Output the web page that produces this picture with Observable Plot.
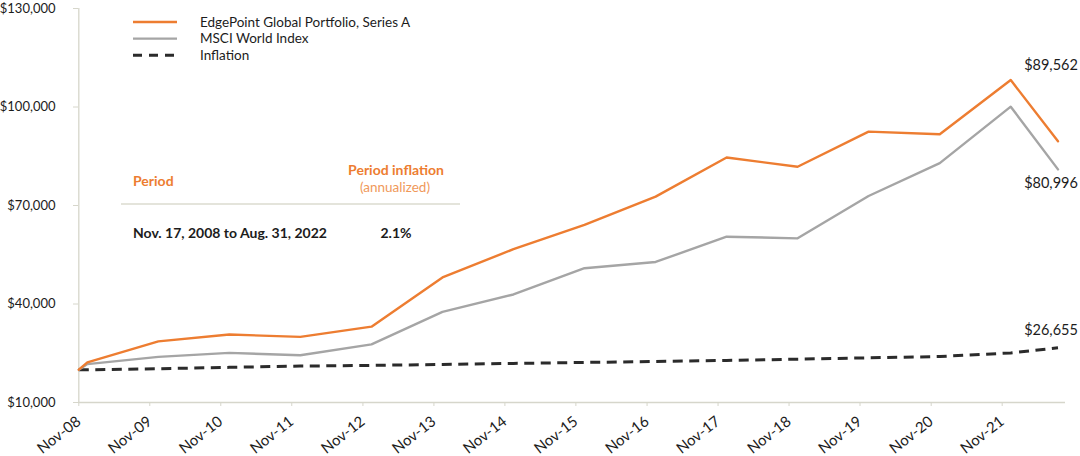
<!DOCTYPE html>
<html>
<head>
<meta charset="utf-8">
<script src="https://cdn.jsdelivr.net/npm/d3@7"></script>
<script src="https://cdn.jsdelivr.net/npm/@observablehq/plot@0.6"></script>
<style>
  html, body { margin: 0; padding: 0; background: #fff; }
  #chart { width: 1080px; height: 456px; }
  svg { font-family: Lato, "Open Sans", sans-serif; }
</style>
</head>
<body>
<div id="chart"></div>
<script>
// ---- data ----
const dates = ["2008-11-17","2008-12-31","2009-12-31","2010-12-31","2011-12-31","2012-12-31","2013-12-31",
  "2014-12-31","2015-12-31","2016-12-31","2017-12-31","2018-12-31","2019-12-31","2020-12-31","2021-12-31","2022-08-31"];
const portfolio = [20000, 22200, 28600, 30700, 30000, 33100, 48100, 56700, 64100, 72700, 84600, 81800, 92500, 91700, 108200, 89562];
const msci      = [20000, 21700, 23900, 25100, 24400, 27700, 37600, 42900, 50900, 52800, 60500, 60000, 72900, 82900, 100100, 80996];
const inflation = [20000, 19950, 20300, 20700, 21100, 21300, 21600, 21900, 22200, 22500, 22800, 23200, 23600, 24000, 25100, 26655];

const seriesNames = ["EdgePoint Global Portfolio, Series A", "MSCI World Index", "Inflation"];
const endLabels = ["$89,562", "$80,996", "$26,655"];

const xTickDates = ["2008-11-17","2009-11-17","2010-11-17","2011-11-17","2012-11-17","2013-11-17","2014-11-17",
  "2015-11-17","2016-11-17","2017-11-17","2018-11-17","2019-11-17","2020-11-17","2021-11-17"];
const xTickLabels = ["Nov-08","Nov-09","Nov-10","Nov-11","Nov-12","Nov-13","Nov-14",
  "Nov-15","Nov-16","Nov-17","Nov-18","Nov-19","Nov-20","Nov-21"];
const yTicks = [10000, 40000, 70000, 100000, 130000];

const tableHeader = ["Period", "Period inflation", "(annualized)"];
const tableRow = ["Nov. 17, 2008 to Aug. 31, 2022", "2.1%"];

// ---- styles ----
const ORANGE = "#ED7D31", GRAY = "#A5A5A5", DARK = "#2b2b2b", AXIS = "#d6d6cb", TEXT = "#1c1c1c";

const parse = d3.utcParse("%Y-%m-%d");
const rows = dates.map((d, i) => ({date: parse(d), portfolio: portfolio[i], msci: msci[i], inflation: inflation[i]}));
const last = rows[rows.length - 1];
const tickDates = xTickDates.map(parse);
const fmt = d3.format(",");

const chart = Plot.plot({
  width: 1080,
  height: 456,
  marginLeft: 78,
  marginRight: 15,
  marginTop: 8,
  marginBottom: 54,
  style: {fontFamily: "Lato, sans-serif", background: "#fff", overflow: "visible"},
  x: {type: "utc", domain: [parse(dates[0]), parse(dates[dates.length - 1])], range: [78.3, 1057.5]},
  y: {domain: [10000, 130000]},
  marks: [
    Plot.ruleY([10000], {stroke: AXIS, strokeWidth: 1.3}),
    Plot.ruleX([parse(dates[0])], {y1: 10000, y2: 130000, stroke: AXIS, strokeWidth: 1.3}),
    Plot.axisY({ticks: yTicks, tickFormat: d => "$" + fmt(d), tickSize: 5, tickPadding: 18,
      stroke: AXIS, fill: TEXT, fontSize: 13, label: null}),
    Plot.axisX({ticks: tickDates, tickFormat: (d, i) => xTickLabels[i], tickSize: 4, tickPadding: 13,
      tickRotate: -38, stroke: AXIS, fill: TEXT, fontSize: 15, label: null}),
    Plot.line(rows, {x: "date", y: "inflation", stroke: DARK, strokeWidth: 3, strokeDasharray: "10,6.5", strokeLinecap: "butt"}),
    Plot.line(rows, {x: "date", y: "msci", stroke: GRAY, strokeWidth: 2.4}),
    Plot.line(rows, {x: "date", y: "portfolio", stroke: ORANGE, strokeWidth: 2.4}),
    Plot.text([last], {x: "date", y: "portfolio", text: () => endLabels[0], dx: -7, dy: -76, fontSize: 14.5, fill: TEXT}),
    Plot.text([last], {x: "date", y: "msci", text: () => endLabels[1], dx: -7, dy: 14, fontSize: 14.5, fill: TEXT}),
    Plot.text([last], {x: "date", y: "inflation", text: () => endLabels[2], dx: -7, dy: -17, fontSize: 14.5, fill: TEXT})
  ]
});

document.getElementById("chart").appendChild(chart);

// ---- legend and inflation table drawn inside the plot area ----
const svg = d3.select(chart);
const legend = svg.append("g").attr("font-family", "Lato, sans-serif").attr("font-size", 13.5)
  .attr("fill", TEXT).attr("text-anchor", "start");
const legendStyles = [
  {stroke: ORANGE, width: 2.4, dash: null},
  {stroke: GRAY, width: 2.4, dash: null},
  {stroke: DARK, width: 3, dash: "9,7"}
];
seriesNames.forEach((name, i) => {
  const yy = 22 + i * 16.6;
  legend.append("line").attr("x1", 133).attr("x2", 177).attr("y1", yy).attr("y2", yy)
    .attr("stroke", legendStyles[i].stroke).attr("stroke-width", legendStyles[i].width)
    .attr("stroke-dasharray", legendStyles[i].dash);
  legend.append("text").attr("x", 200).attr("y", yy).attr("dy", "0.35em").attr("text-anchor", "start").text(name);
});

const table = svg.append("g").attr("font-family", "Lato, sans-serif").attr("text-anchor", "start");
table.append("text").attr("x", 133).attr("y", 181).attr("dy", "0.35em").attr("text-anchor", "start")
  .attr("font-size", 14).attr("font-weight", "bold").attr("fill", ORANGE).text(tableHeader[0]);
table.append("text").attr("x", 396).attr("y", 170).attr("dy", "0.35em").attr("text-anchor", "middle")
  .attr("font-size", 14).attr("font-weight", "bold").attr("fill", ORANGE).text(tableHeader[1]);
table.append("text").attr("x", 395).attr("y", 187).attr("dy", "0.35em").attr("text-anchor", "middle")
  .attr("font-size", 13.5).attr("fill", "#f0995a").text(tableHeader[2]);
table.append("line").attr("x1", 121).attr("x2", 460).attr("y1", 204).attr("y2", 204)
  .attr("stroke", "#c9c9b8").attr("stroke-width", 1.2);
table.append("text").attr("x", 133).attr("y", 233).attr("dy", "0.35em").attr("text-anchor", "start")
  .attr("font-size", 14).attr("font-weight", "bold").attr("fill", TEXT).text(tableRow[0]);
table.append("text").attr("x", 396).attr("y", 233).attr("dy", "0.35em").attr("text-anchor", "middle")
  .attr("font-size", 14).attr("font-weight", "bold").attr("fill", TEXT).text(tableRow[1]);
</script>
</body>
</html>
